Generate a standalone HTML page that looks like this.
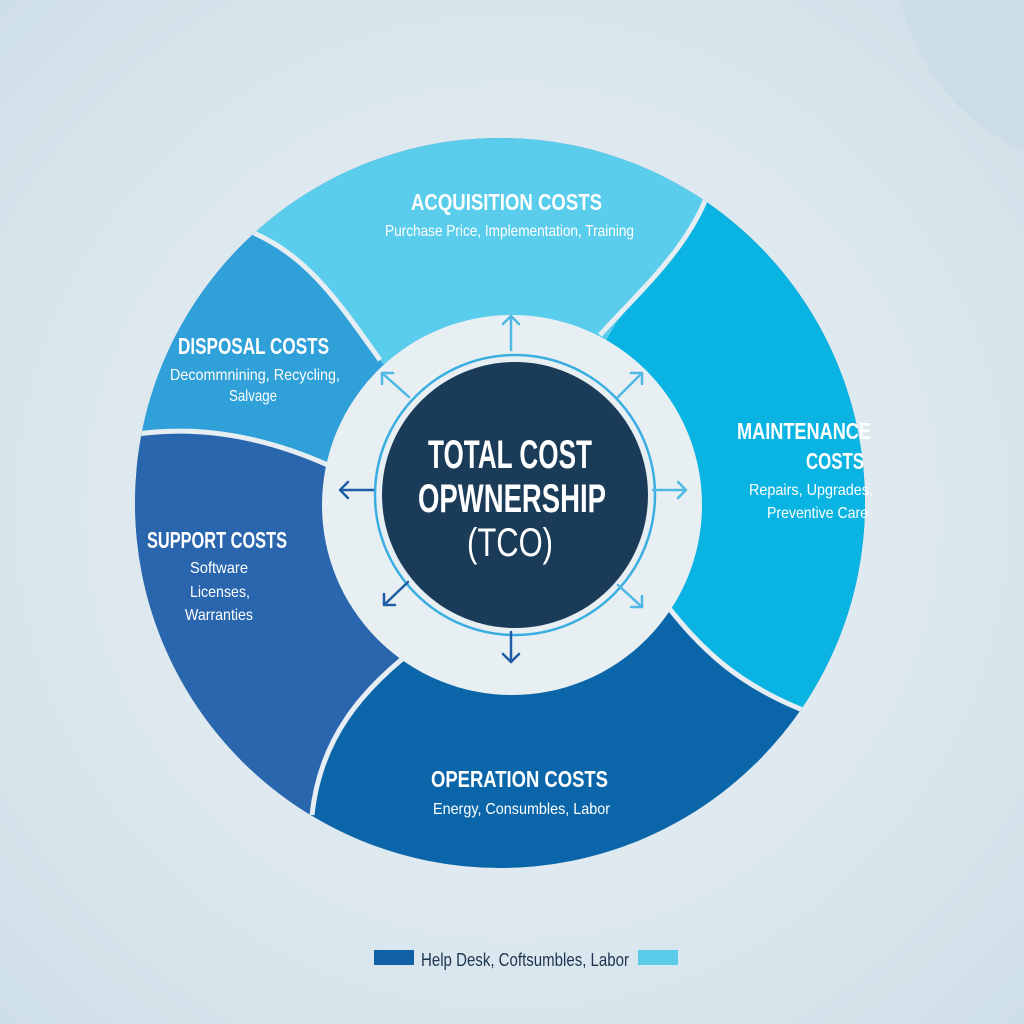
<!DOCTYPE html>
<html><head><meta charset="utf-8"><style>
html,body{margin:0;padding:0;width:1024px;height:1024px;overflow:hidden;background:#dfe9ef}
svg{display:block}
text{font-family:"Liberation Sans",sans-serif}
</style></head><body>
<svg width="1024" height="1024" viewBox="0 0 1024 1024">
<defs>
<radialGradient id="bg" cx="50%" cy="50%" r="70%">
<stop offset="0" stop-color="#eef4f7"/><stop offset="1" stop-color="#cfdfe8"/></radialGradient>
<clipPath id="cc"><circle cx="500" cy="503" r="365"/></clipPath>
</defs>
<rect width="1024" height="1024" fill="url(#bg)"/>
<path d="M900 0 C930 120 1024 150 1024 150 L1024 0Z" fill="#c9dbe5" opacity=".7"/>
<g clip-path="url(#cc)">
<rect x="100" y="100" width="820" height="820" fill="#0a66a8"/>
<path d="M100 100 L720 100 L715 170 C700 240 640 290 615 325 L512 505 L375 355 C330 290 300 245 235 225 L100 200Z" fill="#5acdec"/>
<path d="M720 100 L920 100 L920 760 L820 715 C740 690 700 650 665 600 L512 505 L615 325 C640 290 700 240 715 170Z" fill="#0ab4e2"/>
<path d="M100 200 L235 225 C300 245 330 290 375 355 L512 505 L325 465 C250 430 180 425 130 435 L100 440Z" fill="#2fa0d8"/>
<path d="M100 440 L130 435 C180 425 250 430 325 465 L512 505 L415 650 C360 690 320 740 315 810 L100 900Z" fill="#2a66ae"/>
<g fill="none" stroke="#e6eef3" stroke-width="5">
<path d="M720 150 L715 170 C700 240 640 290 600 335"/>
<path d="M655 590 C700 650 740 690 830 720"/>
<path d="M420 645 C360 690 320 740 312 815"/>
<path d="M120 437 C180 425 250 430 330 466"/>
<path d="M225 222 C300 245 330 290 380 360"/>
</g>
</g>
<circle cx="512" cy="505" r="190" fill="#e8eff3"/>
<circle cx="515" cy="495" r="140" fill="none" stroke="#3aaee0" stroke-width="2.5"/>
<circle cx="515" cy="495" r="133" fill="#1b3c58"/>
<g fill="none" stroke-width="2.5" stroke-linecap="round" stroke-linejoin="round">
<g stroke="#4fb8e4">
<path d="M511 350 L511 316 M503 324 L511 316 L519 324"/>
<path d="M409 397 L382 373 M382 384 L382 373 L393 373"/>
<path d="M618 397 L642 373 M631 373 L642 373 L642 384"/>
<path d="M653 490 L686 490 M678 482 L686 490 L678 498"/>
<path d="M618 585 L642 607 M642 596 L642 607 L631 607"/>
</g>
<g stroke="#1d5da6">
<path d="M373 490 L340 490 M348 482 L340 490 L348 498"/>
<path d="M408 582 L384 605 M384 594 L384 605 L395 605"/>
<path d="M511 632 L511 662 M503 654 L511 662 L519 654"/>
</g>
</g>
<g fill="#fff">
<text x="428" y="468" font-size="40" font-weight="bold" textLength="164" lengthAdjust="spacingAndGlyphs">TOTAL COST</text>
<text x="418" y="512" font-size="40" font-weight="bold" textLength="188" lengthAdjust="spacingAndGlyphs">OPWNERSHIP</text>
<text x="467" y="556" font-size="40" textLength="86" lengthAdjust="spacingAndGlyphs">(TCO)</text>
<g font-weight="bold">
<text x="411" y="210" font-size="23" textLength="191" lengthAdjust="spacingAndGlyphs">ACQUISITION COSTS</text>
<text x="178" y="354" font-size="23" textLength="151" lengthAdjust="spacingAndGlyphs">DISPOSAL COSTS</text>
<text x="737" y="439" font-size="23" textLength="134" lengthAdjust="spacingAndGlyphs">MAINTENANCE</text>
<text x="806" y="469" font-size="23" textLength="58" lengthAdjust="spacingAndGlyphs">COSTS</text>
<text x="147" y="548" font-size="23" textLength="140" lengthAdjust="spacingAndGlyphs">SUPPORT COSTS</text>
<text x="431" y="787" font-size="23" textLength="177" lengthAdjust="spacingAndGlyphs">OPERATION COSTS</text>
</g>
<text x="385" y="236" font-size="16" textLength="249" lengthAdjust="spacingAndGlyphs">Purchase Price, Implementation, Training</text>
<text x="170" y="380" font-size="16" textLength="170" lengthAdjust="spacingAndGlyphs">Decommnining, Recycling,</text>
<text x="229" y="401" font-size="16" textLength="48" lengthAdjust="spacingAndGlyphs">Salvage</text>
<text x="749" y="495" font-size="16" textLength="124" lengthAdjust="spacingAndGlyphs">Repairs, Upgrades,</text>
<text x="767" y="518" font-size="16" textLength="101" lengthAdjust="spacingAndGlyphs">Preventive Care</text>
<text x="190" y="573" font-size="16" textLength="58" lengthAdjust="spacingAndGlyphs">Software</text>
<text x="190" y="597" font-size="16" textLength="60" lengthAdjust="spacingAndGlyphs">Licenses,</text>
<text x="185" y="620" font-size="16" textLength="68" lengthAdjust="spacingAndGlyphs">Warranties</text>
<text x="433" y="814" font-size="16" textLength="177" lengthAdjust="spacingAndGlyphs">Energy, Consumbles, Labor</text>
</g>
<rect x="374" y="950" width="40" height="15" fill="#1160a5"/>
<rect x="638" y="950" width="40" height="15" fill="#5acbe8"/>
<text x="421" y="966" font-size="18" fill="#1d3550" textLength="208" lengthAdjust="spacingAndGlyphs">Help Desk, Coftsumbles, Labor</text>
</svg>
</body></html>
